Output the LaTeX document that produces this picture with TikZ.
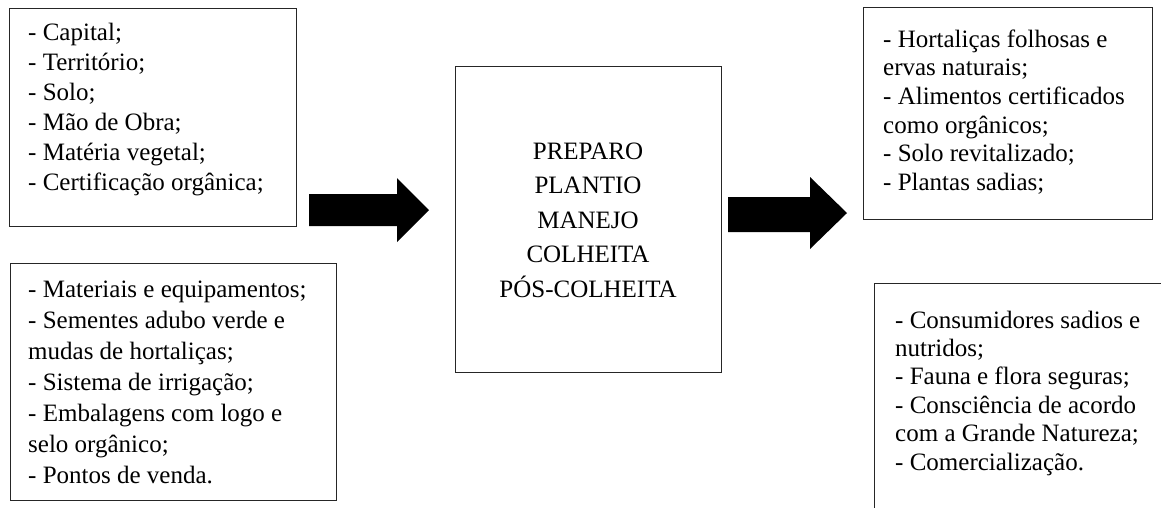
\documentclass[tikz,border=0pt]{standalone}
\usepackage{fontspec}
\setmainfont{Liberation Serif}
\begin{document}
\begin{tikzpicture}[x=1pt,y=-1pt,
  frame/.style={draw=black!85,line width=1.2pt,anchor=north west,inner sep=0pt},
  listtext/.style={anchor=north west,inner sep=0pt,align=left},
  blockarrow/.style={fill=black}]
\useasboundingbox (0,0) rectangle (1161,507);
\clip (0,0) rectangle (1161,507);

% inputs
\node[frame,minimum width=287pt,minimum height=218pt] (inA) at (9,8) {};
\node[listtext,font=\fontsize{25}{30}\selectfont] (inAtxt) at (28,19) {\strut- Capital;\\
- Território;\\
- Solo;\\
- Mão de Obra;\\
- Matéria vegetal;\\
- Certificação orgânica;};

\node[frame,minimum width=326pt,minimum height=237pt] (inB) at (10,263) {};
\node[listtext,font=\fontsize{25}{31}\selectfont] (inBtxt) at (28,275.3) {\strut- Materiais e equipamentos;\\
- Sementes adubo verde e\\
mudas de hortaliças;\\
- Sistema de irrigação;\\
- Embalagens com logo e\\
selo orgânico;\\
- Pontos de venda.};

% process
\node[frame,minimum width=266pt,minimum height=306pt] (proc) at (455,66) {};
\node[anchor=north,inner sep=0pt,align=center,font=\fontsize{25}{34.5}\selectfont] (proctxt) at (588,134.85) {\strut PREPARO\\
PLANTIO\\
MANEJO\\
COLHEITA\\
PÓS-COLHEITA};

% outputs
\node[frame,minimum width=289pt,minimum height=212pt] (outA) at (863,7) {};
\node[listtext,font=\fontsize{25}{28.6}\selectfont] (outAtxt) at (883,27) {\strut- Hortaliças folhosas e\\
ervas naturais;\\
- Alimentos certificados\\
como orgânicos;\\
- Solo revitalizado;\\
- Plantas sadias;};

\node[frame,minimum width=320pt,minimum height=260pt] (outB) at (874,283) {};
\node[listtext,font=\fontsize{25}{28.4}\selectfont] (outBtxt) at (895,308) {\strut- Consumidores sadios e\\
nutridos;\\
- Fauna e flora seguras;\\
- Consciência de acordo\\
com a Grande Natureza;\\
- Comercialização.};

% block arrows
\fill[blockarrow] (309,194) -- (397,194) -- (397,178) -- (429,210) -- (397,242) -- (397,226) -- (309,226) -- cycle;
\fill[blockarrow] (728,197) -- (810,197) -- (810,177) -- (847,213) -- (810,249) -- (810,232) -- (728,232) -- cycle;
\end{tikzpicture}
\end{document}
